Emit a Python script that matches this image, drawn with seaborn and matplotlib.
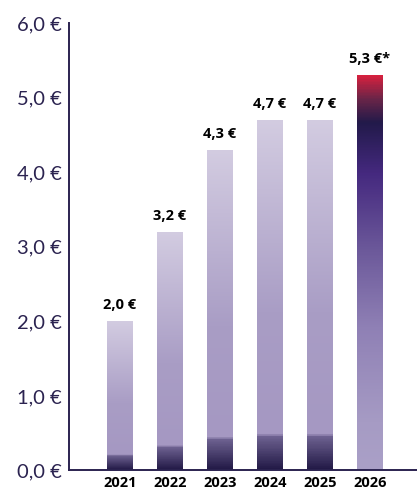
import numpy as np
import pandas as pd
import seaborn as sns
import matplotlib.pyplot as plt
from matplotlib.colors import LinearSegmentedColormap

years = ['2021', '2022', '2023', '2024', '2025', '2026']
values = [2.0, 3.2, 4.3, 4.7, 4.7, 5.3]
value_labels = ['2,0 €', '3,2 €', '4,3 €', '4,7 €', '4,7 €', '5,3 €*']
ytick_values = [0, 1, 2, 3, 4, 5, 6]
ytick_labels = ['0,0 €', '1,0 €', '2,0 €', '3,0 €', '4,0 €', '5,0 €', '6,0 €']

df = pd.DataFrame({'year': years, 'value': values})

sns.set_style('white')
plt.rcParams['font.family'] = ['Lato', 'DejaVu Sans']

navy = '#2b2350'

# gradients, position = fraction of bar height from the bottom
cmap_normal = LinearSegmentedColormap.from_list('normal', [
    (0.0, '#231a47'), (0.095, '#6f6392'), (0.10, '#a598c2'),
    (0.45, '#a99dc5'), (1.0, '#d3cce1')])
cmap_last = LinearSegmentedColormap.from_list('last', [
    (0.0, '#aaa0c7'), (0.12, '#a69bc4'), (0.36, '#8f80b5'),
    (0.55, '#6d5a9b'), (0.75, '#45297f'), (0.88, '#221a4a'),
    (0.94, '#6a2548'), (1.0, '#d8213f')])

fig = plt.figure(figsize=(4.17, 4.9), dpi=100)
ax = fig.add_axes([0.1655, 0.0398, 0.8345, 0.9132])

sns.barplot(data=df, x='year', y='value', ax=ax, width=0.52, color='white')

grad = np.linspace(0, 1, 400).reshape(-1, 1)
for i, patch in enumerate(ax.patches):
    x0 = patch.get_x()
    w = patch.get_width()
    h = patch.get_height()
    cmap = cmap_last if i == len(ax.patches) - 1 else cmap_normal
    im = ax.imshow(grad, cmap=cmap, origin='lower', aspect='auto',
                   extent=[x0, x0 + w, 0, h], zorder=2)
    im.set_clip_path(patch)
    patch.set_edgecolor('none')
    ax.text(x0 + w / 2, h + 0.12, value_labels[i], ha='center', va='bottom',
            fontsize=10.5, fontweight='bold', color='black',
            family=['Open Sans', 'DejaVu Sans'])

ax.set_xlim(-1.02, 5.94)
ax.set_ylim(0, 6.0)
ax.set_yticks(ytick_values)
ax.set_yticklabels(ytick_labels)
ax.set_xlabel('')
ax.set_ylabel('')
ax.tick_params(axis='y', length=0, pad=5, labelsize=14.5, labelcolor=navy)
ax.tick_params(axis='x', length=0, pad=4, labelsize=10.5)
for lab in ax.get_xticklabels():
    lab.set_fontweight('bold')
    lab.set_color('black')
    lab.set_family(['Open Sans', 'DejaVu Sans'])

for s in ['top', 'right']:
    ax.spines[s].set_visible(False)
for s in ['left', 'bottom']:
    ax.spines[s].set_color(navy)
    ax.spines[s].set_linewidth(1.4)

fig.savefig('out.png', dpi=100)
